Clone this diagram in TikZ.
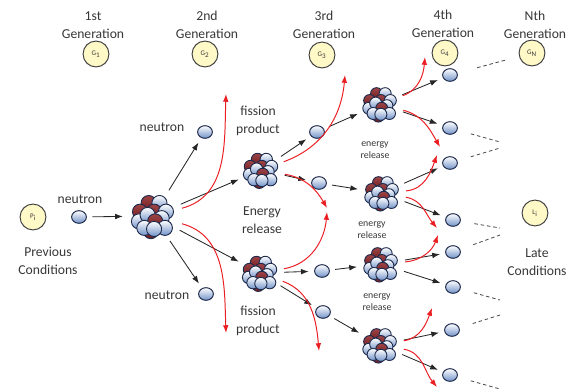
\documentclass[tikz,border=0pt]{standalone}
\usepackage{fontspec}
\setmainfont{Carlito}
\usetikzlibrary{arrows.meta, shapes.geometric}

\definecolor{genfill}{RGB}{255,249,200}
\definecolor{nblue}{RGB}{112,145,200}
\definecolor{nedge}{RGB}{30,42,75}
\definecolor{pred}{RGB}{140,35,38}
\definecolor{fred}{RGB}{235,30,35}
\definecolor{txt}{RGB}{55,55,55}

\tikzstyle{lbl}=[font=\fontsize{9.7}{12.5}\selectfont, text=txt, align=center, inner sep=0pt]
\tikzstyle{small}=[font=\fontsize{7}{8.5}\selectfont, text=txt, align=center, inner sep=0pt]
\tikzstyle{gen}=[circle, draw=black!75, fill=genfill, line width=0.7pt, minimum size=18.4pt,
                 inner sep=0pt, font=\fontsize{5}{6}\selectfont, text=txt]
\tikzstyle{neu}=[ellipse, draw=nedge, line width=0.7pt, top color=white, bottom color=nblue,
                 minimum width=10.5pt, minimum height=9pt, inner sep=0pt, outer sep=4.2pt]
\tikzstyle{nuc}=[circle, minimum size=34pt, inner sep=0pt]
\tikzstyle{bignuc}=[circle, minimum size=42.5pt, inner sep=0pt]
\tikzstyle{p ball}=[draw=nedge, line width=0.65pt, top color=pred!85!white, bottom color=pred!80!black]
\tikzstyle{n ball}=[draw=nedge, line width=0.65pt, top color=white, bottom color=nblue]
\tikzstyle{arr}=[-{Latex[length=5.5pt,width=4pt]}, black!85, line width=0.6pt]
\tikzstyle{rarr}=[arr, fred, line width=0.7pt]
\tikzstyle{dots}=[black!70, line width=0.6pt, dash pattern=on 2.5pt off 2pt]

% one cluster of protons and neutrons
\tikzset{
  balls/.pic={
    \foreach \bx/\by/\bc in {-4/12/p, 6/12/n, -12/4/p, 1/4/p, 12/4/n,
                            -2/-14/p, -13/-5/n, -5/1/n, 8/-2/n, 2/-5/p,
                            -8/-11/n, 11/-11/n, 1/-12/n}
      \draw[\bc\space ball] (\bx,\by) circle (7);
  }
}

\begin{document}
\begin{tikzpicture}[x=0.025cm, y=0.025cm]
  \useasboundingbox (0,0) rectangle (567,391);

  % generations
  \node[lbl] (h1) at (93,366) {1st\\Generation};
  \node[lbl] (h2) at (207,366) {2nd\\Generation};
  \node[lbl] (h3) at (324,366) {3rd\\Generation};
  \node[lbl] (h4) at (443,367) {4th\\Generation};
  \node[lbl] (hN) at (535,366) {Nth\\Generation};
  \node[gen] (G1) at (96,337) {G\textsubscript{1}};
  \node[gen] (G2) at (205,337) {G\textsubscript{2}};
  \node[gen] (G3) at (322,336) {G\textsubscript{3}};
  \node[gen] (G4) at (445,338) {G\textsubscript{4}};
  \node[gen] (GN) at (532,338) {G\textsubscript{N}};

  % start and end conditions
  \node[gen] (Pi) at (33,174) {P\textsubscript{i}};
  \node[lbl] (prev) at (48,130) {Previous\\Conditions};
  \node[gen] (Li) at (535,178) {L\textsubscript{i}};
  \node[lbl] (late) at (537,129) {Late\\Conditions};

  % neutrons
  \node[neu] (n0)  at (79,174) {};
  \node[neu] (n2a) at (205,259) {};
  \node[neu] (n2b) at (206,97) {};
  \node[neu] (n3a) at (317,259) {};
  \node[neu] (n3b) at (319,208) {};
  \node[neu] (n3c) at (322,120) {};
  \node[neu] (n3d) at (323,79) {};
  \node[neu] (n4a) at (450,316) {};
  \node[neu] (n4b) at (450,263) {};
  \node[neu] (n4c) at (450,228) {};
  \node[neu] (n4d) at (453,171) {};
  \node[neu] (n4e) at (453,139) {};
  \node[neu] (n4f) at (453,104) {};
  \node[neu] (n4g) at (452,61) {};
  \node[neu] (n4h) at (450,16) {};

  % nuclei
  \node[bignuc] (c1) at (153,175) {};
  \pic[scale=1.08] at (c1) {balls};
  \node[nuc] (c2a) at (261,221) {};
  \pic[scale=0.88] at (c2a) {balls};
  \node[nuc] (c2b) at (260,118) {};
  \pic[scale=0.88] at (c2b) {balls};
  \node[nuc] (c3a) at (380,287) {};
  \pic[scale=0.86] at (c3a) {balls};
  \node[nuc] (c3b) at (382,198) {};
  \pic[scale=0.86] at (c3b) {balls};
  \node[nuc] (c3c) at (381,127) {};
  \pic[scale=0.86] at (c3c) {balls};
  \node[nuc] (c3d) at (380,46) {};
  \pic[scale=0.86] at (c3d) {balls};

  % labels
  \node[lbl] (l0) at (80,192) {neutron};
  \node[lbl] (l1) at (162,264) {neutron};
  \node[lbl] (l2) at (167,96) {neutron};
  \node[lbl] (fp1) at (258,270) {fission\\product};
  \node[lbl] (fp2) at (258,70) {fission\\product};
  \node[lbl] (er) at (262,171) {Energy\\release};
  \node[small] (er1) at (375,241) {energy\\release};
  \node[small] (er2) at (372,161) {energy\\release};
  \node[small] (er3) at (377,89) {energy\\release};

  % neutron paths
  \draw[arr] (n0) -- (c1);
  \draw[arr] (c1) -- (n2a);
  \draw[arr] (c1) -- (c2a);
  \draw[arr] (c1) -- (c2b);
  \draw[arr] (c1) -- (n2b);
  \draw[arr] (c2a) -- (n3a);
  \draw[arr] (c2a) -- (n3b);
  \draw[arr] (c2b) -- (n3c);
  \draw[arr] (c2b) -- (n3d);
  \draw[arr] (n3a) -- (c3a);
  \draw[arr] (n3b) -- (c3b);
  \draw[arr] (n3c) -- (c3c);
  \draw[arr] (n3d) -- (c3d);
  \draw[arr] (c3a) -- (n4a);
  \draw[arr] (c3a) -- (n4b);
  \draw[arr] (c3b) -- (n4c);
  \draw[arr] (c3b) -- (n4d);
  \draw[arr] (c3c) -- (n4e);
  \draw[arr] (c3c) -- (n4f);
  \draw[arr] (c3d) -- (n4g);
  \draw[arr] (c3d) -- (n4h);

  % fission products
  \coordinate (r1u) at (226,297);
  \coordinate (r1d) at (226,58);
  \coordinate (r2u) at (345,316);
  \coordinate (r2d) at (327,183);
  \coordinate (r3u) at (327,179);
  \coordinate (r3d) at (319,40);
  \coordinate (r4u) at (425,334);
  \coordinate (r4d) at (440,244);
  \coordinate (r5u) at (437,236);
  \coordinate (r5d) at (437,163);
  \coordinate (r6u) at (438,156);
  \coordinate (r7u) at (432,83);
  \coordinate (r7d) at (437,4);
  \draw[rarr] ([shift={(25,33)}]c1) to[out=15,in=-92] (r1u);
  \draw[rarr] ([shift={(25,-22)}]c1) to[out=-15,in=92] (r1d);
  \draw[rarr] ([shift={(9,29)}]c2a) to[out=20,in=-95] (r2u);
  \draw[rarr] ([shift={(22,-14)}]c2a) to[out=-10,in=120] (r2d);
  \draw[rarr] ([shift={(20,10)}]c2b) to[out=10,in=-95] (r3u);
  \draw[rarr] ([shift={(20,-30)}]c2b) to[out=-20,in=95] (r3d);
  \draw[rarr] ([shift={(18,22)}]c3a) to[out=20,in=-95] (r4u);
  \draw[rarr] ([shift={(20,-19)}]c3a) to[out=-15,in=120] (r4d);
  \draw[rarr] ([shift={(16,18)}]c3b) to[out=5,in=-110] (r5u);
  \draw[rarr] ([shift={(21,-20)}]c3b) to[out=-10,in=130] (r5d);
  \draw[rarr] ([shift={(22,11)}]c3c) to[out=5,in=-110] (r6u);
  \draw[rarr] ([shift={(15,17)}]c3d) to[out=10,in=-110] (r7u);
  \draw[rarr] ([shift={(17,-20)}]c3d) to[out=-10,in=130] (r7d);

  % later generations
  \coordinate (e2) at (500,249);
  \coordinate (e3) at (500,243);
  \coordinate (e4) at (500,163);
  \coordinate (e5) at (500,156);
  \coordinate (e6) at (500,91);
  \coordinate (e7) at (500,76);
  \coordinate (e8) at (500,2);
  \draw[dots, shorten <=10.6pt, shorten >=9pt] (n4a) -- (GN);
  \draw[dots, shorten <=6pt] (n4b) -- (e2);
  \draw[dots, shorten <=6pt] (n4c) -- (e3);
  \draw[dots, shorten <=6pt] (n4d) -- (e4);
  \draw[dots, shorten <=6pt] (n4e) -- (e5);
  \draw[dots, shorten <=6pt] (n4f) -- (e6);
  \draw[dots, shorten <=6pt] (n4g) -- (e7);
  \draw[dots, shorten <=6pt] (n4h) -- (e8);
\end{tikzpicture}
\end{document}
